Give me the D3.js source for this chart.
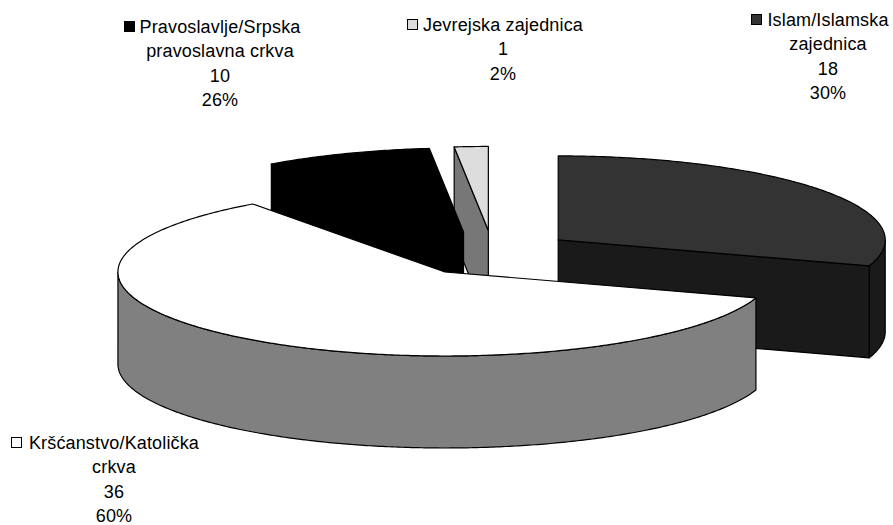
<!DOCTYPE html>
<html>
<head>
<meta charset="utf-8">
<script src="https://cdn.jsdelivr.net/npm/d3@7/dist/d3.min.js"></script>
<style>
html,body{margin:0;padding:0;background:#fff;}
svg{display:block;}
text{font-family:"Liberation Sans",Arial,sans-serif;font-size:18px;letter-spacing:0.15px;fill:#000;text-anchor:middle;}
</style>
</head>
<body>
<svg id="chart" width="893" height="525"></svg>
<script>
// Values that drive the slice angles (order clockwise from 12 o'clock)
const categories = ["Islam", "Kršćanstvo", "Pravoslavlje", "Jevrejska"];
const sliceValues = [18, 36, 5, 1];
const topColors = ["#333333", "#ffffff", "#000000", "#dddddd"];
const wallColors = ["#1a1a1a", "#808080", "#000000", "#777777"];
// Labels as printed
const labelLines = [
  ["Islam/Islamska", "zajednica", "18", "30%"],
  ["Kršćanstvo/Katolička", "crkva", "36", "60%"],
  ["Pravoslavlje/Srpska", "pravoslavna crkva", "10", "26%"],
  ["Jevrejska zajednica", "1", "2%"]
];
const labelAnchors = [[828, 26], [114, 449], [220, 33], [503, 31]];
const keyOffsets = [-77, -103, -96, -96];
const drawOrder = [3, 2, 0, 1];

const W = 893, H = 525;
const cx = 492.6, cy = 253.4, rx = 327, ry = 84, depth = 92, explodeX = 0.248, explodeY = 0.2735;
const lineGap = 24.4;

const svg = d3.select("#chart");
const arcs = d3.pie().sort(null).startAngle(0).endAngle(2 * Math.PI)(sliceValues);
const line = d3.line();

function centerOf(a) {
  const mid = (a.startAngle + a.endAngle) / 2;
  return [cx + rx * explodeX * Math.sin(mid), cy - ry * explodeY * Math.cos(mid)];
}
function rim(c, t, dz) {
  return [c[0] + rx * Math.sin(t), c[1] - ry * Math.cos(t) + dz];
}
function arcPoints(c, a0, a1, dz) {
  const n = Math.max(2, Math.ceil((a1 - a0) / 0.01));
  return d3.range(n + 1).map(i => rim(c, a0 + (a1 - a0) * i / n, dz));
}
const lo = Math.PI / 2, hi = 3 * Math.PI / 2;

function drawSlice(i) {
  const a = arcs[i], c = centerOf(a);
  const g = svg.append("g").attr("class", "slice").attr("data-name", categories[i]);
  const style = s => s.attr("stroke", "#000").attr("stroke-width", 1.2).attr("stroke-linejoin", "round");
  // outer wall: only the part of the rim facing the viewer
  const f0 = Math.max(a.startAngle, lo), f1 = Math.min(a.endAngle, hi);
  if (f1 > f0) {
    const pts = arcPoints(c, f0, f1, 0).concat(arcPoints(c, f0, f1, depth).reverse());
    style(g.append("path").attr("d", line(pts) + "Z").attr("fill", wallColors[i]));
  }
  // cut faces that face the viewer
  [[a.startAngle, Math.sin(a.startAngle) < -1e-6], [a.endAngle, Math.sin(a.endAngle) > 1e-6]].forEach(([t, front]) => {
    if (!front) return;
    const p = rim(c, t, 0);
    const pts = [c, p, [p[0], p[1] + depth], [c[0], c[1] + depth]];
    style(g.append("path").attr("d", line(pts) + "Z").attr("fill", wallColors[i]));
  });
  // top face
  const top = [c].concat(arcPoints(c, a.startAngle, a.endAngle, 0));
  style(g.append("path").attr("d", line(top) + "Z").attr("fill", topColors[i]));
}
drawOrder.forEach(drawSlice);

// Data labels with legend keys
labelLines.forEach((lines, i) => {
  const g = svg.append("g").attr("class", "label");
  const [ax, ay] = labelAnchors[i];
  lines.forEach((s, j) => {
    g.append("text").attr("x", ax).attr("y", ay + j * lineGap).text(s);
  });
  g.append("rect")
    .attr("x", ax + keyOffsets[i] + 0.5).attr("y", ay - 11.5)
    .attr("width", 10).attr("height", 10)
    .attr("fill", topColors[i]).attr("stroke", "#000").attr("stroke-width", 1);
});
</script>
</body>
</html>
